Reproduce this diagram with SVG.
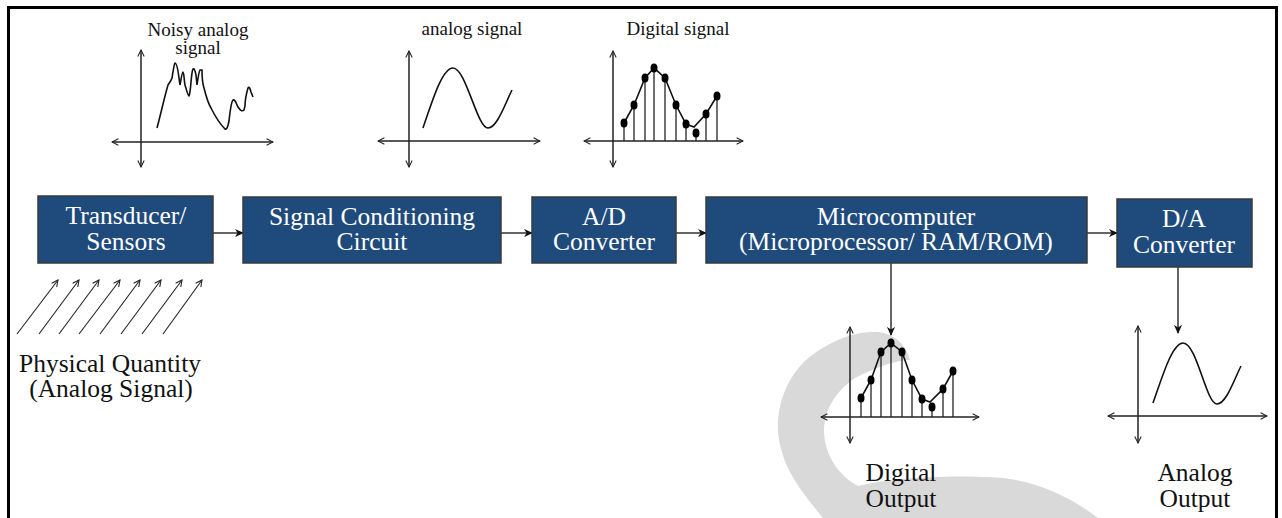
<svg xmlns="http://www.w3.org/2000/svg" width="1282" height="518" viewBox="0 0 1282 518">
  <defs>
    <marker id="open" viewBox="0 0 10 10" refX="9" refY="5" markerWidth="8" markerHeight="8" orient="auto-start-reverse" markerUnits="userSpaceOnUse">
      <path d="M1,1 L9,5 L1,9" fill="none" stroke="#222" stroke-width="1.3"/>
    </marker>
    <marker id="solid" viewBox="0 0 10 10" refX="9" refY="5" markerWidth="9" markerHeight="9" orient="auto" markerUnits="userSpaceOnUse">
      <path d="M0,0.5 L10,5 L0,9.5 L3,5 Z" fill="#111"/>
    </marker>
  </defs>
  <style>
    .box { fill: #1f4a7c; stroke: #3a3a3a; stroke-width: 1.5; }
    .btxt { font-family: "Liberation Serif", "Times New Roman", serif; font-size: 25.5px; fill: #ffffff; text-anchor: middle; }
    .lbl { font-family: "Liberation Serif", "Times New Roman", serif; font-size: 25.5px; fill: #111; text-anchor: middle; }
    .small { font-family: "Liberation Serif", "Times New Roman", serif; font-size: 19px; fill: #111; text-anchor: middle; }
    .axis { stroke: #222; stroke-width: 1.5; fill: none; marker-start: url(#open); marker-end: url(#open); }
    .curve { stroke: #111; stroke-width: 1.6; fill: none; }
    .stem { stroke: #222; stroke-width: 1.3; }
    .dot { fill: #000; }
    .conn { stroke: #111; stroke-width: 1.3; fill: none; marker-end: url(#solid); }
    .phys { stroke: #222; stroke-width: 1.1; fill: none; marker-end: url(#open); }
  </style>

  <rect x="0" y="0" width="1282" height="518" fill="#ffffff"/>

  <!-- background swoosh -->
  <path d="M823,518 C800,490 780,465 778,430 C777,400 790,372 812,355 C835,338 858,331 878,332 C893,334 905,342 910,360 C895,360 875,368 855,378 C835,392 824,410 824,432 C825,455 838,475 858,486 C890,478 950,474 1003,478 C1040,482 1075,500 1098,518 Z" fill="#d9d9d9"/>

  <!-- outer frame -->
  <rect x="8.5" y="7.5" width="1268" height="530" fill="none" stroke="#000" stroke-width="3"/>

  <!-- connectors -->
  <g id="connectors">
    <line class="conn" x1="213" y1="233" x2="243" y2="233"/>
    <line class="conn" x1="501" y1="233" x2="532" y2="233"/>
    <line class="conn" x1="676" y1="233" x2="706" y2="233"/>
    <line class="conn" x1="1087" y1="233" x2="1117" y2="233"/>
    <line class="conn" x1="891" y1="263" x2="891" y2="335"/>
    <line class="conn" x1="1178" y1="267" x2="1178" y2="333"/>
  </g>

  <!-- processing blocks -->
  <g id="transducer">
    <rect class="box" x="38" y="196" width="175" height="67"/>
    <text class="btxt" x="126" y="224">Transducer/</text>
    <text class="btxt" x="126" y="250">Sensors</text>
  </g>
  <g id="signal-conditioning">
    <rect class="box" x="243" y="197" width="258" height="66"/>
    <text class="btxt" x="372" y="225">Signal Conditioning</text>
    <text class="btxt" x="372" y="250">Circuit</text>
  </g>
  <g id="ad-converter">
    <rect class="box" x="532" y="197" width="144" height="66"/>
    <text class="btxt" x="604" y="225">A/D</text>
    <text class="btxt" x="604" y="250">Converter</text>
  </g>
  <g id="microcomputer">
    <rect class="box" x="706" y="197" width="381" height="66"/>
    <text class="btxt" x="896" y="225">Microcomputer</text>
    <text class="btxt" x="896" y="250">(Microprocessor/ RAM/ROM)</text>
  </g>
  <g id="da-converter">
    <rect class="box" x="1117" y="199" width="135" height="68"/>
    <text class="btxt" x="1184" y="227">D/A</text>
    <text class="btxt" x="1184" y="253">Converter</text>
  </g>

  <!-- physical quantity input -->
  <g id="physical-quantity">
    <line class="phys" x1="17" y1="334" x2="58" y2="280"/>
    <line class="phys" x1="39" y1="334" x2="79" y2="280"/>
    <line class="phys" x1="59" y1="334" x2="99" y2="280"/>
    <line class="phys" x1="79" y1="334" x2="120" y2="280"/>
    <line class="phys" x1="100" y1="334" x2="140" y2="280"/>
    <line class="phys" x1="121" y1="334" x2="161" y2="280"/>
    <line class="phys" x1="142" y1="334" x2="182" y2="280"/>
    <line class="phys" x1="163" y1="334" x2="202" y2="280"/>
    <text class="lbl" x="110" y="372">Physical Quantity</text>
    <text class="lbl" x="111" y="397">(Analog Signal)</text>
  </g>

  <!-- noisy analog signal plot -->
  <g id="noisy-signal">
    <text class="small" x="198" y="36">Noisy analog</text>
    <text class="small" x="198" y="54">signal</text>
    <line class="axis" x1="141" y1="50" x2="141" y2="167"/>
    <line class="axis" x1="112" y1="142" x2="273" y2="142"/>
    <path class="curve" d="M157,128 C161,113 165,95 168,85 C170,82 171,81 172,78 C173,72 174,64 175,63 C177,63 178,70 179,78 L180,85 C181,80 182,72 183,72 C184,72 184,80 185,85 C187,92 188,96 189,96 C191,92 191,72 193,69 C194,68 195,70 196,75 L197,85 C198,78 199,71 200,70 L202,70 C202,75 202,82 204,88 C206,96 208,103 211,108 C215,116 220,124 225,129 C227,130 228,126 229,121 C230,112 231,102 233,100 C235,99 236,103 238,107 C240,110 242,112 244,110 L245,106 C245,100 246,95 248,88 C249,86 250,88 251,92 L253,97"/>
  </g>

  <!-- conditioned analog signal plot -->
  <g id="analog-signal">
    <text class="small" x="472" y="35">analog signal</text>
    <line class="axis" x1="409" y1="51" x2="409" y2="167"/>
    <line class="axis" x1="378" y1="141" x2="540" y2="141"/>
    <path class="curve" d="M423,128 C432,102 442,68 453,68 C466,68 477,128 488,128 C497,128 505,104 512,90"/>
  </g>

  <!-- sampled digital signal plot -->
  <g id="digital-signal">
    <text class="small" x="678" y="35">Digital signal</text>
    <line class="axis" x1="613" y1="51" x2="613" y2="167"/>
    <line class="axis" x1="584" y1="141" x2="743" y2="141"/>
    <path class="curve" d="M624,123 L634,105 L645,78 L654,68 L665,78 L676,105 L686,124 L694,127 L706,114 L717,96"/>
    <g class="stem">
      <line x1="624" y1="123" x2="624" y2="141"/>
      <line x1="634" y1="105" x2="634" y2="141"/>
      <line x1="645" y1="78" x2="645" y2="141"/>
      <line x1="654" y1="68" x2="654" y2="141"/>
      <line x1="665" y1="78" x2="665" y2="141"/>
      <line x1="676" y1="105" x2="676" y2="141"/>
      <line x1="686" y1="124" x2="686" y2="141"/>
      <line x1="696" y1="133" x2="696" y2="141"/>
      <line x1="706" y1="114" x2="706" y2="141"/>
      <line x1="717" y1="96" x2="717" y2="141"/>
    </g>
    <g class="dot">
      <ellipse cx="624" cy="123" rx="3.5" ry="4.5"/>
      <ellipse cx="634" cy="105" rx="3.5" ry="4.5"/>
      <ellipse cx="645" cy="78" rx="3.5" ry="4.5"/>
      <ellipse cx="654" cy="68" rx="3.5" ry="4.5"/>
      <ellipse cx="665" cy="78" rx="3.5" ry="4.5"/>
      <ellipse cx="676" cy="105" rx="3.5" ry="4.5"/>
      <ellipse cx="686" cy="124" rx="3.5" ry="4.5"/>
      <ellipse cx="696" cy="133" rx="3.5" ry="4.5"/>
      <ellipse cx="706" cy="114" rx="3.5" ry="4.5"/>
      <ellipse cx="717" cy="96" rx="3.5" ry="4.5"/>
    </g>
  </g>

  <!-- digital output plot -->
  <g id="digital-output">
    <line class="axis" x1="850" y1="327" x2="850" y2="443"/>
    <line class="axis" x1="821" y1="417" x2="979" y2="417"/>
    <path class="curve" d="M861,398 L871,380 L881,352 L891,343 L902,352 L912,380 L922,399 L930,402 L943,389 L953,371"/>
    <g class="stem">
      <line x1="861" y1="398" x2="861" y2="417"/>
      <line x1="871" y1="380" x2="871" y2="417"/>
      <line x1="881" y1="352" x2="881" y2="417"/>
      <line x1="891" y1="343" x2="891" y2="417"/>
      <line x1="902" y1="352" x2="902" y2="417"/>
      <line x1="912" y1="380" x2="912" y2="417"/>
      <line x1="922" y1="399" x2="922" y2="417"/>
      <line x1="932" y1="407" x2="932" y2="417"/>
      <line x1="943" y1="389" x2="943" y2="417"/>
      <line x1="953" y1="371" x2="953" y2="417"/>
    </g>
    <g class="dot">
      <ellipse cx="861" cy="398" rx="3.5" ry="4.5"/>
      <ellipse cx="871" cy="380" rx="3.5" ry="4.5"/>
      <ellipse cx="881" cy="352" rx="3.5" ry="4.5"/>
      <ellipse cx="891" cy="343" rx="3.5" ry="4.5"/>
      <ellipse cx="902" cy="352" rx="3.5" ry="4.5"/>
      <ellipse cx="912" cy="380" rx="3.5" ry="4.5"/>
      <ellipse cx="922" cy="399" rx="3.5" ry="4.5"/>
      <ellipse cx="932" cy="407" rx="3.5" ry="4.5"/>
      <ellipse cx="943" cy="389" rx="3.5" ry="4.5"/>
      <ellipse cx="953" cy="371" rx="3.5" ry="4.5"/>
    </g>
    <text class="lbl" x="901" y="481">Digital</text>
    <text class="lbl" x="901" y="507">Output</text>
  </g>

  <!-- analog output plot -->
  <g id="analog-output">
    <line class="axis" x1="1138" y1="326" x2="1138" y2="443"/>
    <line class="axis" x1="1108" y1="416" x2="1267" y2="416"/>
    <path class="curve" d="M1153,403 C1162,378 1172,343 1183,343 C1197,343 1206,404 1217,404 C1226,404 1234,380 1241,366"/>
    <text class="lbl" x="1195" y="481">Analog</text>
    <text class="lbl" x="1195" y="507">Output</text>
  </g>
</svg>
